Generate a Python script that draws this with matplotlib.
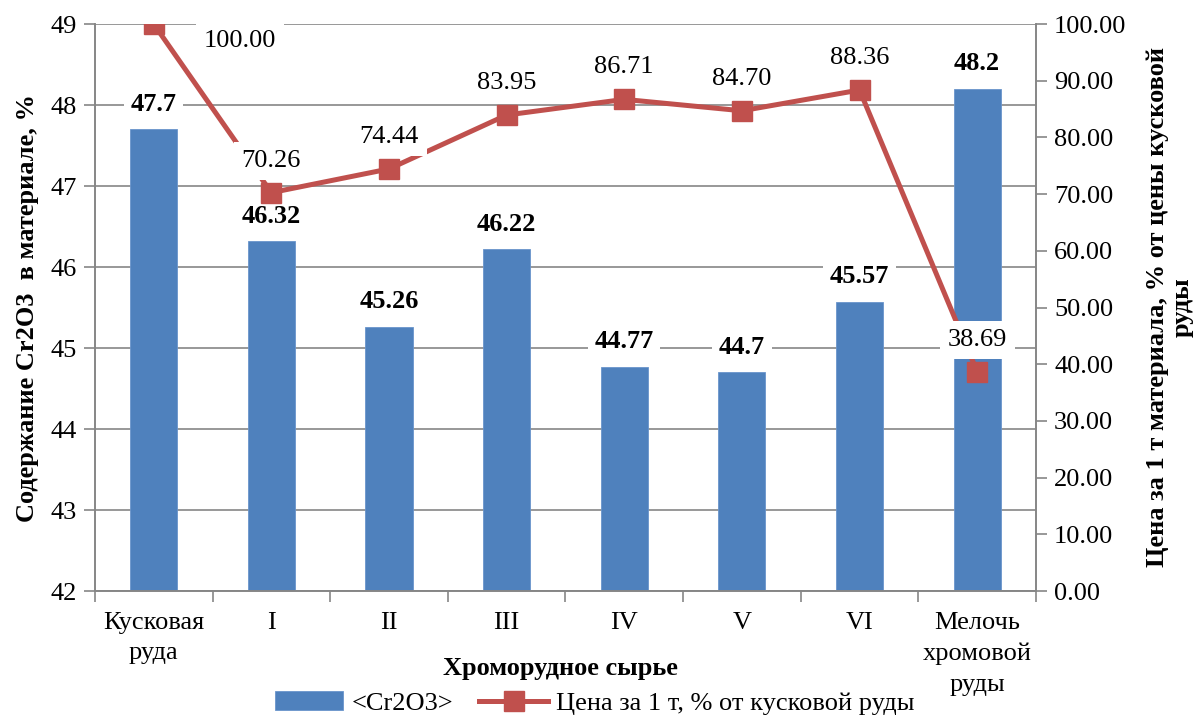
import numpy as np
import matplotlib.pyplot as plt
from matplotlib.ticker import FixedLocator

plt.rcParams['font.family'] = ['Liberation Serif', 'DejaVu Serif']

categories = ['Кусковая\nруда', 'I', 'II', 'III', 'IV', 'V', 'VI', 'Мелочь\nхромовой\nруды']
cr2o3 = [47.7, 46.32, 45.26, 46.22, 44.77, 44.7, 45.57, 48.2]
price = [100.00, 70.26, 74.44, 83.95, 86.71, 84.70, 88.36, 38.69]
cr2o3_text = ['47.7', '46.32', '45.26', '46.22', '44.77', '44.7', '45.57', '48.2']

blue = '#4F81BD'
red = '#C0504D'
axis_gray = '#868686'
fs = 19

fig = plt.figure(figsize=(12.01, 7.17), dpi=100)
ax = fig.add_axes([0.079, 0.1757, 0.7836, 0.7908])
ax2 = ax.twinx()

x = np.arange(len(categories))

# bars: Cr2O3 content
bars = ax.bar(x, cr2o3, width=0.4, color=blue, edgecolor='#6A95CC', linewidth=0.6,
              zorder=2, label='<Cr2O3>')
ax.set_ylim(42, 49)
ax.set_xlim(-0.5, len(categories) - 0.5)
ax.set_yticks(np.arange(42, 50, 1))
ax.grid(axis='y', color=axis_gray, linewidth=1.2, zorder=0)
ax.set_axisbelow(True)
for xi, v, t in zip(x, cr2o3, cr2o3_text):
    ax.annotate(t, (xi, v), xytext=(0, 18), textcoords='offset points',
                ha='center', va='center', fontsize=fs, fontweight='bold',
                bbox=dict(boxstyle='square,pad=0.25', fc='white', ec='none'), zorder=5)

# line: price per tonne
line, = ax2.plot(x, price, color=red, linewidth=3.6, marker='s', markersize=14,
                 markeredgecolor=red, zorder=3,
                 label='Цена за 1 т, % от кусковой руды')
ax2.set_ylim(0, 100)
ax2.set_yticks(np.arange(0, 101, 10))
ax2.set_yticklabels([f'{v:.2f}' for v in np.arange(0, 101, 10)])
for i, (xi, v) in enumerate(zip(x, price)):
    off = (62, -12) if i == 0 else (0, 23)
    ax2.annotate(f'{v:.2f}', (xi, v), xytext=off, textcoords='offset points',
                 ha='center', va='center', fontsize=fs,
                 bbox=dict(boxstyle='square,pad=0.3', fc='white', ec='none'), zorder=6)

# category ticks and separators
ax.set_xticks(x)
ax.set_xticklabels(categories, fontsize=fs, linespacing=1.5, va='top')
ax.xaxis.set_minor_locator(FixedLocator(np.arange(-0.5, len(categories), 1)))
ax.tick_params(axis='x', which='major', length=0, pad=15)
ax.tick_params(axis='x', which='minor', length=8, color=axis_gray, width=1.2)
ax.tick_params(axis='y', labelsize=fs, length=8, color=axis_gray, width=1.2, pad=5)
ax2.tick_params(axis='y', labelsize=fs, length=8, color=axis_gray, width=1.2, pad=5)

for a in (ax, ax2):
    for s in a.spines.values():
        s.set_color(axis_gray)
        s.set_linewidth(1.2)
    a.spines['top'].set_visible(False)

ax.set_ylabel('Содержание Cr2O3  в материале, %', fontsize=fs, fontweight='bold', labelpad=8)
fig.text(1170 / 1201, 1 - 307 / 717, 'Цена за 1 т материала, % от цены кусковой\nруды',
         fontsize=fs, fontweight='bold', rotation=90, ha='center', va='center',
         multialignment='center', linespacing=1.1)
fig.text(560 / 1201, 1 - 668 / 717, 'Хроморудное сырье', fontsize=fs, fontweight='bold',
         ha='center', va='center')

fig.legend([bars, line], ['<Cr2O3>', 'Цена за 1 т, % от кусковой руды'],
           loc='center', bbox_to_anchor=(0.495, 1 - 703 / 717), ncol=2, frameon=False,
           fontsize=fs, handlelength=2.6, columnspacing=1.0, handletextpad=0.3,
           borderpad=0)

fig.savefig('out.png', dpi=100)
